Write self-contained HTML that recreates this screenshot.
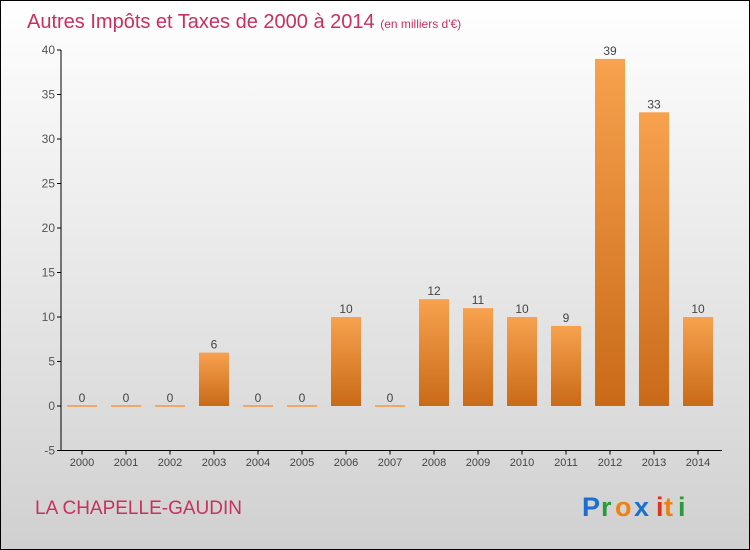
<!DOCTYPE html>
<html><head><meta charset="utf-8"><style>
body{margin:0}
svg{display:block;font-family:"Liberation Sans",sans-serif}
</style></head><body>
<svg width="750" height="550" viewBox="0 0 750 550">
<defs>
<linearGradient id="bg" x1="0" y1="0" x2="0" y2="1"><stop offset="0" stop-color="#ffffff"/><stop offset="1" stop-color="#d0d0d0"/></linearGradient>
<linearGradient id="bar" x1="0" y1="0" x2="0" y2="1"><stop offset="0" stop-color="#f7a24e"/><stop offset="1" stop-color="#c96a18"/></linearGradient>
</defs>
<rect x="0.5" y="0.5" width="749" height="549" fill="url(#bg)" stroke="#000"/>
<text x="27" y="28" font-size="20" fill="#c8305f">Autres Impôts et Taxes de 2000 à 2014 <tspan font-size="12">(en milliers d'€)</tspan></text>
<g id="axes"></g>
<g id="bars"></g>
<text x="35" y="514" font-size="19" fill="#c8305f">LA CHAPELLE-GAUDIN</text>
<g font-size="27" font-weight="bold">
<text x="582" y="516" fill="#1a6fd0">P</text><text x="601" y="516" fill="#2a9a3a">r</text><text x="615" y="516" fill="#f08010">o</text><text x="634" y="516" fill="#1a6fd0">x</text><text x="656" y="516" fill="#e03020">i</text><text x="664" y="516" fill="#f08010">t</text><text x="678" y="516" fill="#2a9a3a">i</text>
</g>
</svg>
<script>
const categories=["2000","2001","2002","2003","2004","2005","2006","2007","2008","2009","2010","2011","2012","2013","2014"];
const values=[0,0,0,6,0,0,10,0,12,11,10,9,39,33,10];
const yTicks=[-5,0,5,10,15,20,25,30,35,40];
const NS="http://www.w3.org/2000/svg";
const y=v=>406-v*(356/40);
const x=i=>82+i*44;
function mk(t,a,p){const e=document.createElementNS(NS,t);for(const k in a)e.setAttribute(k,a[k]);p.appendChild(e);return e;}
const ax=document.getElementById('axes'),bg=document.getElementById('bars');
const yl=mk('line',{x1:61,y1:y(40),x2:61,y2:y(-5),stroke:'#000'},ax);


const xl=mk('line',{x1:61,y1:y(-5),x2:722,y2:y(-5),stroke:'#000'},ax);


yTicks.forEach(t=>{
 mk('line',{x1:57,x2:61,y1:y(t),y2:y(t),stroke:'#000'},ax);
 const tx=mk('text',{x:55,y:y(t)+4,'text-anchor':'end','font-size':12,fill:'#555'},ax);
 tx.textContent=t;
 
 
});
categories.forEach((c,i)=>{
 mk('line',{x1:x(i),x2:x(i),y1:y(-5),y2:y(-5)+4,stroke:'#000'},ax);
 const tx=mk('text',{x:x(i),y:466,'text-anchor':'middle','font-size':11,fill:'#444'},ax);
 tx.textContent=c;
 
 
 const v=values[i];
 let r;
 if(v===0){r=mk('rect',{x:x(i)-15,y:y(0)-1,width:30,height:2,fill:'#f0a868'},bg);}
 else{r=mk('rect',{x:x(i)-15,y:y(v),width:30,height:y(0)-y(v),fill:'url(#bar)'},bg);}
 
 
 const lb=mk('text',{x:x(i),y:y(v)-4,'text-anchor':'middle','font-size':12,fill:'#444'},bg);
 lb.textContent=v;
 
 
});
</script>
</body></html>
